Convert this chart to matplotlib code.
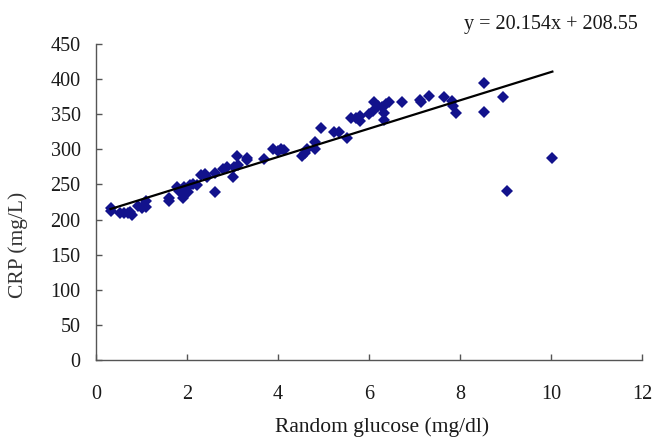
import matplotlib
matplotlib.use("Agg")
import matplotlib.pyplot as plt
import numpy as np

glucose = [0.32, 0.32, 0.52, 0.62, 0.71, 0.80, 0.75, 0.92, 1.00, 1.04, 1.10, 1.10,
           1.61, 1.61, 1.79, 1.82, 1.91, 1.93, 2.02, 2.07, 2.13, 2.22, 2.30, 2.39,
           2.43, 2.62, 2.62, 2.80, 2.89, 3.01, 3.03, 3.10, 3.12, 3.31, 3.31, 3.69,
           3.90, 3.99, 4.06, 4.13, 4.52, 4.59, 4.64, 4.82, 4.82, 4.94, 5.22, 5.33,
           5.51, 5.60, 5.71, 5.80, 5.80, 6.01, 6.08, 6.12, 6.20, 6.29, 6.32, 6.34,
           6.38, 6.45, 6.72, 7.12, 7.14, 7.32, 7.64, 7.82, 7.85, 7.92, 8.52, 8.52,
           8.95, 9.03, 10.03]
crp = [216, 212, 210, 210, 210, 207, 211, 219, 217, 219, 226, 218,
       230, 226, 247, 241, 231, 247, 239, 249, 251, 249, 264, 265,
       261, 266, 239, 272, 275, 261, 275, 291, 277, 288, 285, 286,
       300, 298, 301, 299, 291, 295, 300, 311, 300, 330, 325, 325,
       316, 345, 344, 348, 340, 350, 355, 367, 362, 360, 352, 342,
       365, 367, 368, 370, 367, 376, 375, 369, 362, 352, 395, 353,
       375, 240, 287]
slope = 20.154
intercept = 208.55
x_ticks = [0, 2, 4, 6, 8, 10, 12]
y_ticks = [0, 50, 100, 150, 200, 250, 300, 350, 400, 450]

plt.rcParams['font.family'] = ['Liberation Serif', 'DejaVu Serif']

W, H = 655, 438
fig = plt.figure(figsize=(W / 100, H / 100), dpi=100)
ax = fig.add_axes([96 / W, 1 - 360 / H, (642 - 96) / W, (360 - 44) / H])

ax.plot(glucose, crp, linestyle='none', marker='D', markersize=6,
        color='#12128c', markeredgewidth=0)

xl = np.array([min(glucose), max(glucose)])
ax.plot(xl, slope * xl + intercept, color='black', linewidth=1.6)

ax.set_xlim(0, 12)
ax.set_ylim(0, 450)
ax.set_xticks(x_ticks)
ax.set_yticks(y_ticks)
ax.tick_params(direction='in', length=4, width=1, color='#555555',
               labelsize=14.5, labelcolor='#1a1a1a')
ax.tick_params(axis='x', pad=18)
ax.tick_params(axis='y', pad=11)
for s in ['top', 'right']:
    ax.spines[s].set_visible(False)
for s in ['left', 'bottom']:
    ax.spines[s].set_color('#555555')
    ax.spines[s].set_linewidth(1)

fig.text(382 / W, 1 / H, 'Random glucose (mg/dl)', ha='center', va='bottom',
         fontsize=15.5, color='#1a1a1a')
fig.text(18 / W, 1 - 245 / H, 'CRP (mg/L)', ha='center', va='center',
         rotation=90, fontsize=15.5, color='#333333')

fig.text(638 / W, 1 - 24 / H, f'y = {slope}x + {intercept}', ha='right', va='center',
         fontsize=14.5, color='#1a1a1a')

fig.savefig('out.png', dpi=100)
